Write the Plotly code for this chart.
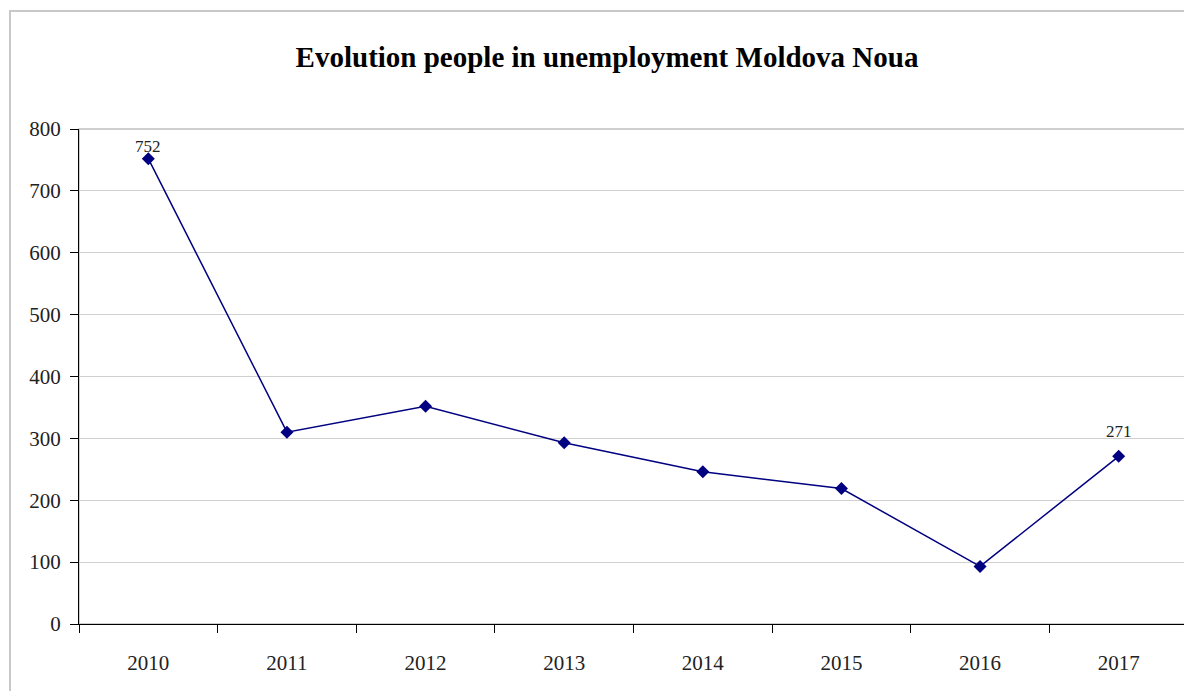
import plotly.graph_objects as go

years = ["2010", "2011", "2012", "2013", "2014", "2015", "2016", "2017"]
unemployed = [752, 310, 352, 293, 246, 219, 93, 271]
labelled = ["2010", "2017"]
label_offsets = {"2010": 12, "2017": 25}
y_ticks = [0, 100, 200, 300, 400, 500, 600, 700, 800]

# page has an 8px body margin; figure coords = page coords - 8
W, H = 1184, 683
L, R, T, B = 71, 4, 121, 67
pw, ph = W - L - R, H - T - B

fig = go.Figure()
fig.add_trace(go.Scatter(
    x=years, y=unemployed, mode="lines+markers",
    line=dict(color="#000080", width=1.5),
    marker=dict(symbol="diamond", size=10, color="#000080"),
    cliponaxis=False, showlegend=False,
))

annotations = [
    dict(x=i, y=v, xref="x", yref="y", text=str(v), showarrow=False,
         yanchor="middle", xanchor="center", yshift=label_offsets[y],
         font=dict(family="Liberation Serif", size=17, color="#222222"))
    for i, (y, v) in enumerate(zip(years, unemployed)) if y in labelled
]

font_family = "Liberation Serif"
fig.update_layout(
    width=W, height=H,
    margin=dict(l=L, r=R, t=T, b=B),
    paper_bgcolor="white", plot_bgcolor="white",
    title=dict(text="<b>Evolution people in unemployment Moldova Noua</b>",
               x=(607 - 8) / W, xanchor="center", y=1 - (57 - 8) / H, yanchor="middle",
               font=dict(family=font_family, size=29, color="black")),
    font=dict(family=font_family, size=21, color="#222222"),
    xaxis=dict(type="category", range=[-0.5, len(years) - 0.5],
               tickson="boundaries", ticks="outside", ticklen=8,
               tickcolor="black", showline=True, linecolor="black", linewidth=1,
               showgrid=False, tickfont=dict(size=21), ticklabelstandoff=20),
    yaxis=dict(range=[0, 800], tickvals=y_ticks, ticks="outside", ticklen=8,
               tickcolor="black", showline=True, linecolor="black", linewidth=1,
               showgrid=True, gridcolor="#d0d0d0", gridwidth=1, zeroline=False,
               tickfont=dict(size=21), ticklabelstandoff=5),
    annotations=annotations,
    shapes=[
        dict(type="rect", xref="paper", yref="paper", x0=0, x1=1, y0=0, y1=1,
             line=dict(color="#c0c0c0", width=1.5), layer="below"),
        dict(type="rect", xref="paper", yref="paper",
             x0=(2 - L) / pw, x1=(W + 20 - L) / pw,
             y0=-(B + 20) / ph, y1=(T + ph - 3) / ph,
             line=dict(color="#c8c8c8", width=2), layer="below"),
    ],
)

fig.write_html("out.html")
